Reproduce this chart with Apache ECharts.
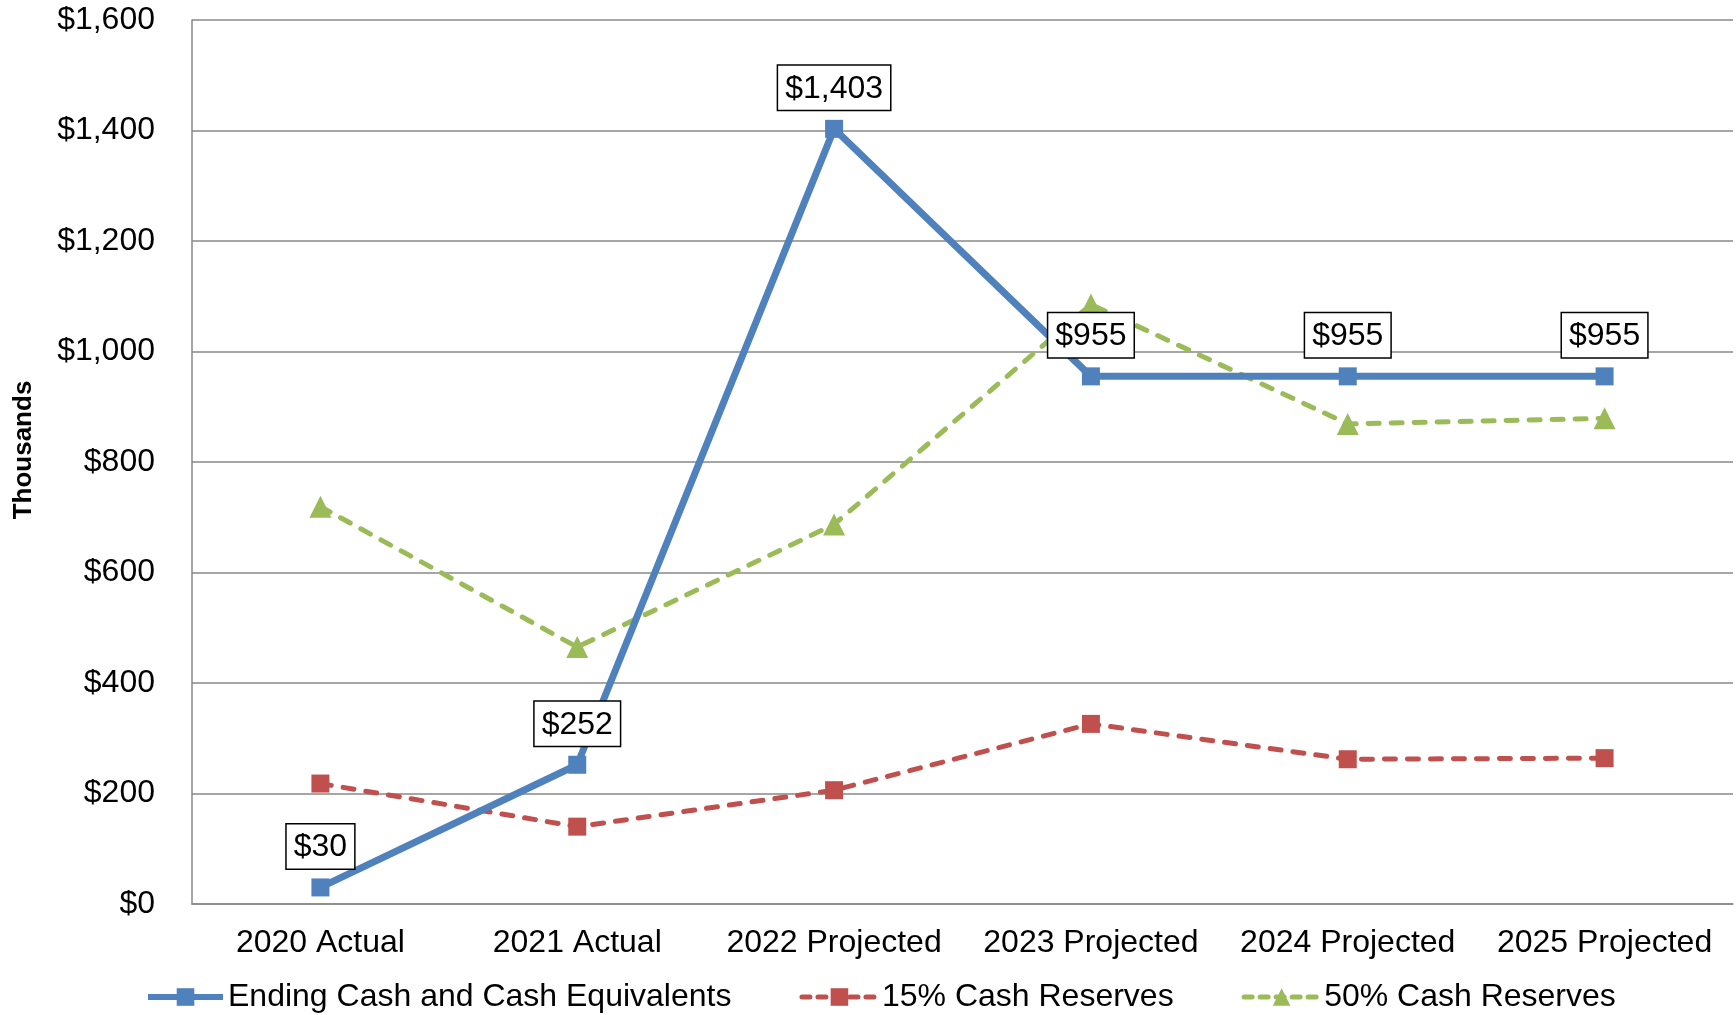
<!DOCTYPE html>
<html>
<head>
<meta charset="utf-8">
<script src="https://cdn.jsdelivr.net/npm/echarts@6/dist/echarts.min.js"></script>
<style>
    html, body { margin: 0; padding: 0; background: #fff; }
    #cashChart { width: 1736px; height: 1015px; }
</style>
</head>
<body>
<div id="cashChart"></div>
<script>
    // chart values
    const categories = ['2020 Actual', '2021 Actual', '2022 Projected', '2023 Projected', '2024 Projected', '2025 Projected']
    const endingCash = [30, 252, 1403, 955, 955, 955]
    const reserves15 = [218, 140, 206, 326, 262, 264]
    const reserves50 = [719, 465, 687, 1085, 869, 879]
    const yTicks = { min: 0, max: 1600, interval: 200 }

    const font = 'Liberation Sans, Arial, sans-serif'
    const dash = [11, 12]
    const myChart = echarts.init(document.getElementById('cashChart'))

    const money = v => '$' + Number(v).toLocaleString('en-US')

    let option = {
        animation: false,
        color: ['#4F81BD', '#C0504D', '#9BBB59'],
        grid: {
            left: 192,
            right: 3,
            top: 20,
            bottom: 111,
            containLabel: false,
            outerBoundsMode: 'none'
        },
        legend: {
            top: 976,
            left: 140,
            itemWidth: 75,
            itemHeight: 22,
            itemGap: 68,
            textStyle: { fontFamily: font, fontSize: 32, color: '#000' },
            data: [
                { name: 'Ending Cash and Cash Equivalents', lineStyle: { width: 6 } },
                { name: '15% Cash Reserves', lineStyle: { width: 5, type: [8, 8], cap: 'round' } },
                { name: '50% Cash Reserves', lineStyle: { width: 5, type: [8, 8], cap: 'round' } }
            ]
        },
        xAxis: {
            type: 'category',
            data: categories,
            axisTick: { show: false },
            axisLine: { lineStyle: { color: '#888', width: 1.5 } },
            axisLabel: { fontFamily: font, fontSize: 32, color: '#000', margin: 23, interval: 0 }
        },
        yAxis: {
            type: 'value',
            min: yTicks.min,
            max: yTicks.max,
            interval: yTicks.interval,
            name: 'Thousands',
            nameLocation: 'middle',
            nameGap: 155,
            nameTextStyle: {
                fontFamily: font, fontSize: 26, fontWeight: 'bold', color: '#000',
                padding: [0, 0, 0, 24]
            },
            axisLine: { show: true, lineStyle: { color: '#888', width: 1.5 } },
            axisTick: { show: false },
            splitLine: { lineStyle: { color: '#888', width: 1.5 } },
            axisLabel: {
                fontFamily: font, fontSize: 32, color: '#000', margin: 37,
                formatter: money
            }
        },
        series: [
            {
                name: 'Ending Cash and Cash Equivalents',
                type: 'line',
                data: endingCash,
                symbol: 'rect',
                symbolSize: 18,
                lineStyle: { width: 7 },
                z: 3,
                label: {
                    show: true,
                    position: 'top',
                    distance: 10,
                    formatter: p => money(p.value),
                    fontFamily: font,
                    fontSize: 32,
                    color: '#000',
                    backgroundColor: '#fff',
                    borderColor: '#000',
                    borderWidth: 1.5,
                    padding: [7, 7, 5, 7]
                }
            },
            {
                name: '15% Cash Reserves',
                type: 'line',
                data: reserves15,
                symbol: 'rect',
                symbolSize: 18,
                lineStyle: { width: 5, type: dash, cap: 'round' },
                z: 2
            },
            {
                name: '50% Cash Reserves',
                type: 'line',
                data: reserves50,
                symbol: 'triangle',
                symbolSize: 22,
                lineStyle: { width: 5, type: dash, cap: 'round' },
                z: 2
            }
        ]
    }
    myChart.setOption(option)
</script>
</body>
</html>
